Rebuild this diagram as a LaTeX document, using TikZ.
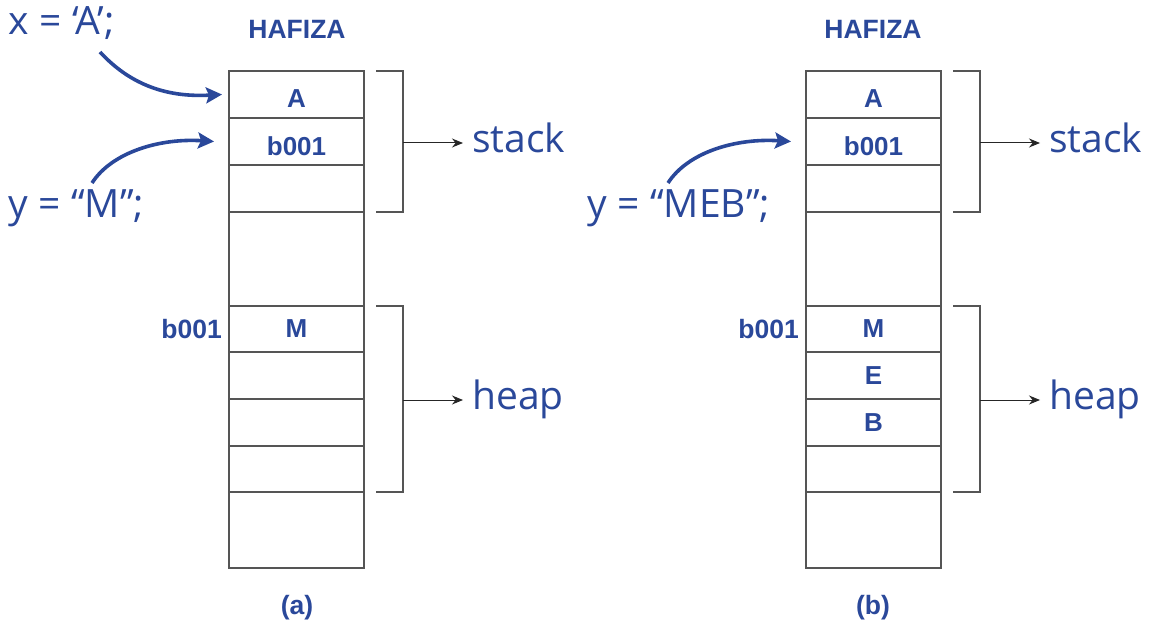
\documentclass[tikz,border=0pt]{standalone}
\usepackage{fontspec}
\setmainfont{Open Sans}
\newfontfamily\arialf{Liberation Sans}
\usetikzlibrary{arrows.meta}
\definecolor{memblue}{RGB}{42,72,154}
\definecolor{linegray}{RGB}{85,85,85}
\newcommand{\eqsp}{\hspace{0.27em}=\hspace{0.27em}}
\begin{document}
\begin{tikzpicture}[x=1pt,y=-1pt,
  cell/.style={draw=linegray, line width=1.1pt, minimum width=135pt, inner sep=0pt, outer sep=0pt, anchor=north west},
  celltext/.style={text=memblue, font=\arialf\bfseries\fontsize{26}{28}\selectfont, inner sep=0pt},
  boldlbl/.style={text=memblue, font=\arialf\bfseries\fontsize{26.5}{28}\selectfont, inner sep=0pt},
  biglbl/.style={text=memblue, font=\fontsize{39}{42}\selectfont, inner sep=0pt, anchor=base west},
  bracket/.style={draw=linegray, line width=1.1pt},
  thinarrow/.style={draw=black!85, line width=1pt, -{Stealth[length=11pt,width=9pt]}},
  bluearrow/.style={draw=memblue, line width=3.6pt, -{Stealth[length=16pt,width=16pt,inset=3pt]}}
]
\useasboundingbox (0,0) rectangle (1158,631);

% ---------- (a) ----------
\node[boldlbl] (ha) at (297,29) {HAFIZA};
\node[cell, minimum height=47pt] (a1) at (229,71) {};
\node[cell, minimum height=47pt] (a2) at (229,118) {};
\node[cell, minimum height=47pt] (a3) at (229,165) {};
\node[cell, minimum height=94pt] (a4) at (229,212) {};
\node[cell, minimum height=46pt] (a5) at (229,306) {};
\node[cell, minimum height=47pt] (a6) at (229,352) {};
\node[cell, minimum height=47pt] (a7) at (229,399) {};
\node[cell, minimum height=46pt] (a8) at (229,446) {};
\node[cell, minimum height=76pt] (a9) at (229,492) {};
\node[celltext] (a1t) at ([yshift=-4.5pt]a1.center) {A};
\node[celltext] (a2t) at ([yshift=-5pt]a2.center) {b001};
\node[celltext] (a5t) at (a5.center) {M};
\node[boldlbl, anchor=east] (aaddr) at ([xshift=-7pt]a5.west) {b001};
\node[boldlbl] (acap) at (297,608) {(a)};

\draw[bracket] (376,71) -- (403,71) -- (403,212) -- (376,212);
\coordinate (asb) at (403,143);
\draw[bracket] (376,306) -- (403,306) -- (403,492) -- (376,492);
\coordinate (ahb) at (403,400);
\node[biglbl] (astack) at (472,153) {stack};
\node[biglbl] (aheap) at (472,409) {heap};
\draw[thinarrow] (asb) -- ([xshift=-9pt]astack.west |- asb);
\draw[thinarrow] (ahb) -- ([xshift=-9pt]aheap.west |- ahb);

\node[biglbl] (xtxt) at (8,35) {x\eqsp‘A’;};
\node[biglbl] (ytxt) at (8,217) {y\eqsp“M”;};
\coordinate (xs) at (100,52);
\coordinate (ys) at (92,183);
\draw[bluearrow] (xs) .. controls (135,90) and (175,97) .. ([xshift=-7pt]a1.west);
\draw[bluearrow] (ys) .. controls (112,152) and (160,138) .. ([xshift=-15pt]a2.west);

% ---------- (b) ----------
\node[boldlbl] (hb) at (873,29) {HAFIZA};
\node[cell, minimum height=47pt] (b1) at (806,71) {};
\node[cell, minimum height=47pt] (b2) at (806,118) {};
\node[cell, minimum height=47pt] (b3) at (806,165) {};
\node[cell, minimum height=94pt] (b4) at (806,212) {};
\node[cell, minimum height=46pt] (b5) at (806,306) {};
\node[cell, minimum height=47pt] (b6) at (806,352) {};
\node[cell, minimum height=47pt] (b7) at (806,399) {};
\node[cell, minimum height=46pt] (b8) at (806,446) {};
\node[cell, minimum height=76pt] (b9) at (806,492) {};
\node[celltext] (b1t) at ([yshift=-4.5pt]b1.center) {A};
\node[celltext] (b2t) at ([yshift=-5pt]b2.center) {b001};
\node[celltext] (b5t) at (b5.center) {M};
\node[celltext] (b6t) at (b6.center) {E};
\node[celltext] (b7t) at (b7.center) {B};
\node[boldlbl, anchor=east] (baddr) at ([xshift=-7pt]b5.west) {b001};
\node[boldlbl] (bcap) at (873,608) {(b)};

\draw[bracket] (953,71) -- (980,71) -- (980,212) -- (953,212);
\coordinate (bsb) at (980,143);
\draw[bracket] (953,306) -- (980,306) -- (980,492) -- (953,492);
\coordinate (bhb) at (980,400);
\node[biglbl] (bstack) at (1049,153) {stack};
\node[biglbl] (bheap) at (1049,409) {heap};
\draw[thinarrow] (bsb) -- ([xshift=-9pt]bstack.west |- bsb);
\draw[thinarrow] (bhb) -- ([xshift=-9pt]bheap.west |- bhb);

\node[biglbl] (ytxtb) at (587,217) {y\eqsp“MEB”;};
\coordinate (ysb) at (668,183);
\draw[bluearrow] (ysb) .. controls (688,152) and (736,138) .. ([xshift=-15pt]b2.west);
\end{tikzpicture}
\end{document}
